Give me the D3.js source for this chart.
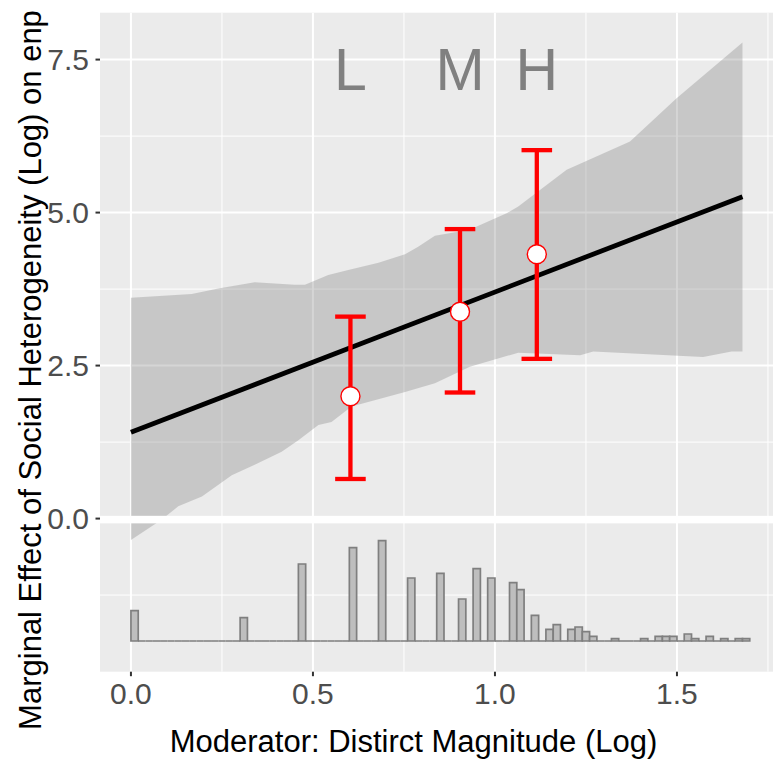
<!DOCTYPE html>
<html><head><meta charset="utf-8">
<script src="https://cdn.jsdelivr.net/npm/d3@7"></script>
<style>body{margin:0;background:#fff}svg{display:block}text{font-family:"Liberation Sans",Arial,sans-serif}</style>
</head><body><div id="chart"></div>
<script>
// ---- data ----
const xTicks = [0, 0.5, 1.0, 1.5];
const xTickLabels = ["0.0", "0.5", "1.0", "1.5"];
const yTicks = [0, 2.5, 5, 7.5];
const yTickLabels = ["0.0", "2.5", "5.0", "7.5"];
const xMinor = [0.25, 0.75, 1.25, 1.75];
const yMinor = [-1.25, 1.25, 3.75, 6.25];
// marginal effect line (linear)
const lineX = [0, 1.68];
const lineY = [1.41, 5.26];
// confidence band
const bandUpperX = [0, 0.167, 0.24, 0.34, 0.45, 0.478, 0.542, 0.597, 0.68, 0.753, 0.789, 0.835, 0.93, 1.032, 1.064, 1.197, 1.371, 1.499, 1.68];
const bandUpperY = [3.61, 3.67, 3.76, 3.86, 3.82, 3.82, 3.98, 4.06, 4.18, 4.32, 4.44, 4.62, 4.72, 4.99, 5.10, 5.70, 6.16, 6.87, 7.78];
const bandLowerX = [0, 0.084, 0.13, 0.195, 0.277, 0.34, 0.414, 0.46, 0.515, 0.551, 0.606, 0.753, 0.835, 0.931, 1.064, 1.234, 1.27, 1.572, 1.65, 1.68];
const bandLowerY = [-0.35, -0.02, 0.20, 0.36, 0.71, 0.88, 1.09, 1.28, 1.53, 1.58, 1.83, 2.07, 2.21, 2.48, 2.71, 2.67, 2.73, 2.64, 2.73, 2.73];
// binned estimates
const binLabels = ["L", "M", "H"];
const binX = [0.603, 0.904, 1.115];
const binEst = [2.00, 3.38, 4.32];
const binLow = [0.647, 2.06, 2.61];
const binHigh = [3.30, 4.73, 6.02];
// histogram of moderator: bins of width 0.02 starting at 0
const histStart = 0, histWidth = 0.02;
const histCounts = [13,0,0,0,0,0,0,0,0,0, 0,0,0,0,0,10,0,0,0,0, 0,0,0,33,0,0,0,0,0,0, 40,0,0,0,43,0,0,0,27,0, 0,0,29,0,0,18,0,31,0,27,
  0,0,25,22,0,11,0,5,7,0, 5,6,4,2,0,0,1,0,0,0, 1,0,2,2,2,0,3,1,0,2, 0,1,0,1,1];
const histBase = -2.0, histTop = -0.361;
const xTitle = "Moderator: Distirct Magnitude (Log)";
const yTitle = "Marginal Effect of Social Heterogeneity (Log) on enp";

// ---- layout ----
const W = 773, H = 763;
const svg = d3.select("#chart").append("svg").attr("width", W).attr("height", H);
const x = d3.scaleLinear().domain([-0.085, 1.785]).range([100, 780.7]);
const y = d3.scaleLinear().domain([-2.502, 8.266]).range([671.7, 12.7]);
const [px0, px1] = x.range(), [py1, py0] = y.range();

svg.append("rect").attr("x", px0).attr("y", py0).attr("width", px1 - px0).attr("height", py1 - py0).attr("fill", "#EBEBEB");
const grid = svg.append("g");
xMinor.forEach(v => grid.append("line").attr("x1", x(v)).attr("x2", x(v)).attr("y1", py0).attr("y2", py1).attr("stroke", "#fff").attr("stroke-width", 1));
yMinor.forEach(v => grid.append("line").attr("y1", y(v)).attr("y2", y(v)).attr("x1", px0).attr("x2", px1).attr("stroke", "#fff").attr("stroke-width", 1));
xTicks.forEach(v => grid.append("line").attr("x1", x(v)).attr("x2", x(v)).attr("y1", py0).attr("y2", py1).attr("stroke", "#fff").attr("stroke-width", 2));
yTicks.forEach(v => grid.append("line").attr("y1", y(v)).attr("y2", y(v)).attr("x1", px0).attr("x2", px1).attr("stroke", "#fff").attr("stroke-width", 2));

// band
const upper = bandUpperX.map((v, i) => [v, bandUpperY[i]]);
const lower = bandLowerX.map((v, i) => [v, bandLowerY[i]]);
const poly = upper.concat(lower.slice().reverse());
svg.append("path").attr("d", d3.line().x(d => x(d[0])).y(d => y(d[1]))(poly) + "Z")
  .attr("fill", "#7F7F7F").attr("fill-opacity", 0.33);

// white separator
svg.append("rect").attr("x", px0).attr("width", px1 - px0).attr("y", y(0.045)).attr("height", y(-0.078) - y(0.045)).attr("fill", "#fff");

// histogram (drawn as closed paths so empty bins still show their outline)
const maxC = d3.max(histCounts);
const hY = d3.scaleLinear().domain([0, maxC]).range([histBase, histTop]);
svg.append("g").selectAll("path").data(histCounts).join("path")
  .attr("d", (d, i) => {
    const x0 = x(histStart + i * histWidth), x1 = x(histStart + (i + 1) * histWidth);
    const yb = y(histBase), yt = y(hY(d));
    return `M${x0},${yb}L${x0},${yt}L${x1},${yt}L${x1},${yb}Z`;
  })
  .attr("fill", "#BEBEBE").attr("stroke", "#7F7F7F").attr("stroke-width", 1.7);

// line
svg.append("path").attr("d", d3.line().x(d => x(d[0])).y(d => y(d[1]))(lineX.map((v, i) => [v, lineY[i]])))
  .attr("stroke", "#000").attr("stroke-width", 4.8).attr("fill", "none");

// error bars
const capHalf = 0.042;
const eb = svg.append("g").attr("stroke", "#FF0000").attr("stroke-width", 4.3);
binX.forEach((v, i) => {
  eb.append("line").attr("x1", x(v)).attr("x2", x(v)).attr("y1", y(binLow[i])).attr("y2", y(binHigh[i]));
  eb.append("line").attr("x1", x(v - capHalf)).attr("x2", x(v + capHalf)).attr("y1", y(binLow[i])).attr("y2", y(binLow[i]));
  eb.append("line").attr("x1", x(v - capHalf)).attr("x2", x(v + capHalf)).attr("y1", y(binHigh[i])).attr("y2", y(binHigh[i]));
});
svg.append("g").selectAll("circle").data(binX).join("circle")
  .attr("cx", d => x(d)).attr("cy", (d, i) => y(binEst[i])).attr("r", 9.5)
  .attr("fill", "#fff").attr("stroke", "#FF0000").attr("stroke-width", 1.4);

// L M H labels
svg.append("g").selectAll("text").data(binLabels).join("text")
  .attr("x", (d, i) => x(binX[i])).attr("y", y(7.01)).attr("text-anchor", "middle")
  .attr("font-size", 59).attr("fill", "#808080").text(d => d);

// axes
const ax = svg.append("g");
xTicks.forEach((v, i) => {
  ax.append("line").attr("x1", x(v)).attr("x2", x(v)).attr("y1", py1).attr("y2", py1 + 4.5).attr("stroke", "#333").attr("stroke-width", 2);
  ax.append("text").attr("x", x(v)).attr("y", py1 + 32.5).attr("text-anchor", "middle").attr("font-size", 30).attr("fill", "#4D4D4D").text(xTickLabels[i]);
});
yTicks.forEach((v, i) => {
  ax.append("line").attr("x1", px0 - 4.5).attr("x2", px0).attr("y1", y(v)).attr("y2", y(v)).attr("stroke", "#333").attr("stroke-width", 2);
  ax.append("text").attr("x", px0 - 11).attr("y", y(v) + 10.7).attr("text-anchor", "end").attr("font-size", 30).attr("fill", "#4D4D4D").text(yTickLabels[i]);
});
svg.append("text").attr("x", 413.5).attr("y", 752).attr("text-anchor", "middle").attr("font-size", 31).attr("fill", "#000").text(xTitle);
svg.append("text").attr("transform", "translate(41,370) rotate(-90)").attr("text-anchor", "middle").attr("font-size", 31).attr("fill", "#000").text(yTitle);
</script></body></html>
